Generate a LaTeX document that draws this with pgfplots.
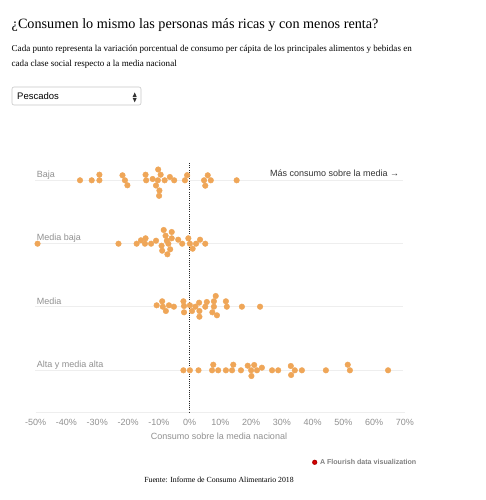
\documentclass[border=0pt]{standalone}
\usepackage{pgfplots}
\pgfplotsset{compat=1.18}
\usepackage{pgfplotstable}
\usepackage{fontspec}
\setmainfont{Liberation Serif}
\newfontfamily\sans{Liberation Sans}
\definecolor{dotcol}{RGB}{239,166,88}
\definecolor{lbl}{RGB}{145,145,145}
\definecolor{gridc}{RGB}{238,238,238}

\pgfplotstableread{
x y
-35.6 180.3
-31.8 180.3
-29.3 180.3
-29.3 174.7
-21.8 175.3
-21.0 180.3
-20.2 185.3
-14.3 174.7
-14.1 180.3
-12.0 179.0
-10.2 169.5
-9.4 174.7
-10.3 180.3
-10.9 185.5
-9.8 190.5
-9.9 195.8
-8.1 180.3
-6.4 177.0
-5.0 180.3
-1.5 180.3
-0.8 175.2
4.7 180.3
5.9 175.3
6.9 180.3
5.1 185.7
15.3 180.3
}\baja

\pgfplotstableread{
x y
-49.4 243.7
-23.1 243.7
-17.2 243.7
-15.8 240.3
-14.3 238.3
-14.5 243.7
-12.5 243.7
-10.9 240.7
-9.1 245.7
-8.9 250.7
-8.4 230.0
-7.8 235.7
-7.4 240.7
-7.2 254.3
-6.9 243.7
-5.8 232.0
-5.8 238.3
-6.3 249.3
-3.7 239.7
-2.4 243.7
-0.4 238.3
0.1 243.7
1.0 248.7
2.1 243.7
3.4 239.7
5.1 243.7
}\mediabaja

\pgfplotstableread{
x y
-10.7 305.3
-8.9 301.3
-8.7 306.7
-7.7 311.0
-6.7 305.3
-5.1 306.7
-2.0 301.3
-1.8 306.0
-1.8 312.3
0.1 305.3
0.8 311.0
1.9 306.7
3.1 302.7
3.2 311.0
3.2 316.7
5.1 306.7
5.6 302.0
7.4 312.3
7.9 301.3
7.9 306.7
8.5 296.0
8.9 315.3
11.8 301.3
12.1 306.7
17.0 306.7
22.9 306.7
}\media

\pgfplotstableread{
x y
-2.0 370.3
0.1 370.3
2.9 370.3
7.7 364.7
7.3 370.3
9.3 370.3
11.8 370.3
13.8 370.3
14.2 364.7
16.7 370.3
18.9 365.7
20.0 370.3
21.0 365.0
20.1 376.0
21.9 370.3
23.5 367.7
26.8 370.3
28.8 370.3
32.9 366.0
34.2 370.3
33.0 375.0
36.5 370.3
44.3 370.3
51.4 364.7
52.1 370.3
64.5 370.3
}\alta

\begin{document}
\begin{tikzpicture}
\useasboundingbox (0,0) rectangle (486bp,500bp);
\fill[white] (0,0) rectangle (486bp,500bp);

% title & subtitle
\node[anchor=base west, inner sep=0] at (11.5bp,471bp) {\fontsize{14.2bp}{17bp}\selectfont ¿Consumen lo mismo las personas más ricas y con menos renta?};
\node[anchor=base west, inner sep=0] at (11.5bp,448bp) {\fontsize{9.05bp}{11bp}\selectfont Cada punto representa la variación porcentual de consumo per cápita de los principales alimentos y bebidas en};
\node[anchor=base west, inner sep=0] at (11.5bp,433bp) {\fontsize{9.05bp}{11bp}\selectfont cada clase social respecto a la media nacional};

% dropdown
\draw[black!22, rounded corners=2bp, line width=0.6bp] (12bp,395bp) rectangle (141bp,413bp);
\node[anchor=west, inner sep=0] at (17bp,403.5bp) {\sans\fontsize{9.5bp}{11bp}\selectfont Pescados};
\fill[black!80] (132.7bp,403.2bp) -- (136.7bp,403.2bp) -- (134.7bp,407.5bp) -- cycle;
\fill[black!80] (132.7bp,402.0bp) -- (136.7bp,402.0bp) -- (134.7bp,397.7bp) -- cycle;

\begin{axis}[
  at={(35.7bp,88bp)}, anchor=south west,
  scale only axis, width=369.3bp, height=257bp,
  xmin=-50, xmax=70, ymin=155, ymax=412, y dir=reverse,
  axis x line=bottom, axis y line=none,
  x axis line style={draw=gridc, line width=0.6bp, -},
  xtick={-50,-40,...,70},
  xticklabels={-50\%,-40\%,-30\%,-20\%,-10\%,0\%,10\%,20\%,30\%,40\%,50\%,60\%,70\%},
  xticklabel style={font=\sans\fontsize{9bp}{10bp}\selectfont, text=lbl, anchor=center, yshift=-10bp, inner sep=0},
  major tick length=0pt,
  clip=false,
]
\foreach \yy in {180.3,243.7,306.7,370.3}{
  \edef\tmp{\noexpand\draw[gridc, line width=0.8bp] (axis cs:-50.2,\yy) -- (axis cs:69.4,\yy);}\tmp
}
\draw[black!85, line width=0.7bp, dash pattern=on 0.9bp off 1.3bp] (axis cs:0,163) -- (axis cs:0,412);
\node[anchor=west, inner sep=0, text=lbl, font=\sans\fontsize{9bp}{10bp}\selectfont] at (axis cs:-49.7,174.7) {Baja};
\node[anchor=west, inner sep=0, text=lbl, font=\sans\fontsize{9bp}{10bp}\selectfont] at (axis cs:-49.7,238.3) {Media baja};
\node[anchor=west, inner sep=0, text=lbl, font=\sans\fontsize{9bp}{10bp}\selectfont] at (axis cs:-49.7,301.0) {Media};
\node[anchor=west, inner sep=0, text=lbl, font=\sans\fontsize{9bp}{10bp}\selectfont] at (axis cs:-49.7,364.7) {Alta y media alta};
\addplot[only marks, mark=*, mark size=2.8bp, mark options={draw=dotcol, fill=dotcol}] table[x=x,y=y]{\baja};
\addplot[only marks, mark=*, mark size=2.8bp, mark options={draw=dotcol, fill=dotcol}] table[x=x,y=y]{\mediabaja};
\addplot[only marks, mark=*, mark size=2.8bp, mark options={draw=dotcol, fill=dotcol}] table[x=x,y=y]{\media};
\addplot[only marks, mark=*, mark size=2.8bp, mark options={draw=dotcol, fill=dotcol}] table[x=x,y=y]{\alta};
\end{axis}

\node[anchor=west, inner sep=0, text=black!80] at (270bp,326.7bp) {\sans\fontsize{9bp}{10bp}\selectfont Más consumo sobre la media →};
\node[inner sep=0, text=lbl] at (219bp,64bp) {\sans\fontsize{9bp}{10bp}\selectfont Consumo sobre la media nacional};

% flourish badge
\fill[red!70!black] (314.7bp,37.7bp) circle (2.6bp);
\fill[red!85!black] (314.7bp,37.7bp) circle (1.6bp);
\node[anchor=west, inner sep=0, text=black!50] at (319.8bp,37.7bp) {\sans\bfseries\fontsize{7.1bp}{8bp}\selectfont A Flourish data visualization};

% footer
\node[inner sep=0] at (219bp,19.7bp) {\fontsize{7.8bp}{10bp}\selectfont Fuente: Informe de Consumo Alimentario 2018};
\end{tikzpicture}
\end{document}
